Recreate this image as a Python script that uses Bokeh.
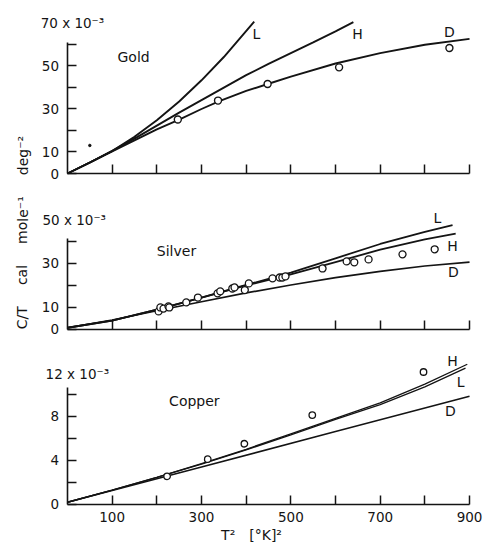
from bokeh.plotting import figure
from bokeh.layouts import column, row
from bokeh.models import Range1d, FixedTicker, Label
from bokeh.embed import file_html
from bokeh.resources import INLINE

# ---------------- data ----------------
x_ticks = [100, 200, 300, 400, 500, 600, 700, 800, 900]
x_tick_text = ["100", "", "300", "", "500", "", "700", "", "900"]
x_title = "T\u00b2\u2003[\u00b0K]\u00b2"

gold_y_ticks = [0, 10, 20, 30, 40, 50, 60]
gold_y_text = ["0", "10", "", "30", "", "50", ""]
silver_y_ticks = [0, 10, 20, 30, 40]
silver_y_text = ["0", "10", "", "30", ""]
copper_y_ticks = [0, 2, 4, 6, 8, 10]
copper_y_text = ["0", "", "4", "", "8", ""]

gold_L_x = [0, 50, 100, 150, 200, 250, 300, 350, 418]
gold_L_y = [0, 5.0, 10.4, 17.0, 24.7, 33.4, 43.2, 54.0, 70.4]
gold_H_x = [0, 50, 100, 150, 200, 250, 300, 350, 400, 450, 500, 550, 600, 640]
gold_H_y = [0, 5.1, 10.5, 16.2, 22.2, 28.2, 34.0, 39.8, 45.6, 50.8, 55.8, 60.8, 65.9, 70.2]
gold_D_x = [0, 100, 200, 250, 300, 340, 400, 450, 500, 600, 700, 800, 900]
gold_D_y = [0, 10.3, 20.5, 25.0, 29.9, 33.6, 38.3, 41.6, 44.9, 51.0, 55.8, 59.7, 62.4]
gold_obs_x = [247, 337, 448, 608, 855]
gold_obs_y = [25.0, 33.8, 41.5, 49.2, 58.2]
gold_speck_x = [50]
gold_speck_y = [13.0]

silver_L_x = [0, 100, 200, 300, 400, 500, 600, 700, 800, 862]
silver_L_y = [0.8, 4.0, 9.0, 14.5, 20.2, 25.8, 32.3, 38.8, 44.3, 47.4]
silver_H_x = [0, 100, 200, 300, 400, 500, 600, 700, 800, 869]
silver_H_y = [0.8, 4.0, 9.0, 14.5, 20.0, 25.0, 30.6, 36.2, 40.9, 43.5]
silver_D_x = [0, 100, 200, 300, 400, 500, 600, 700, 800, 900]
silver_D_y = [0.8, 4.3, 8.5, 12.6, 16.6, 20.2, 23.5, 26.4, 28.8, 30.6]
silver_obs_x = [204, 208, 215, 226, 228, 266, 292, 336, 342, 369, 374, 397, 406,
                459, 475, 481, 488, 571, 625, 642, 674, 750, 822]
silver_obs_y = [8.2, 10.0, 9.5, 10.5, 10.0, 12.3, 14.5, 16.4, 17.3, 18.6, 19.1, 17.9, 20.9,
                23.2, 23.6, 23.6, 24.1, 27.7, 30.9, 30.5, 31.8, 34.1, 36.4]

copper_H_x = [0, 100, 200, 300, 400, 500, 600, 700, 800, 895]
copper_H_y = [0.2, 1.3, 2.45, 3.7, 5.0, 6.4, 7.8, 9.2, 10.9, 12.7]
copper_L_x = [0, 100, 200, 300, 400, 500, 600, 700, 800, 891]
copper_L_y = [0.2, 1.3, 2.45, 3.65, 4.95, 6.3, 7.7, 9.05, 10.65, 12.35]
copper_D_x = [0, 300, 600, 900]
copper_D_y = [0.2, 3.4, 6.6, 9.8]
copper_obs_x = [223, 314, 396, 548, 797]
copper_obs_y = [2.55, 4.1, 5.5, 8.1, 12.0]

# ---------------- style ----------------
FONT = "DejaVu Sans"
INK = "#141414"
X_MIN = -64.9      # frame reaches left of the y axis so side texts stay inside it
X_MAX = 938.0      # and right of x = 900 so the last tick label fits


def txt(p, x, y, s, size="14px", align="center"):
    p.add_layout(Label(x=x, y=y, text=s, text_font=FONT, text_font_size=size,
                       text_color=INK, text_align=align, text_baseline="middle"))


def make_panel(height, ymin, ymax, yticks, ytext, ybound):
    p = figure(width=448, height=height, x_range=Range1d(X_MIN, X_MAX),
               y_range=Range1d(ymin, ymax),
               output_backend="svg", toolbar_location=None,
               min_border_left=0, min_border_right=0,
               min_border_top=0, min_border_bottom=0)
    p.xgrid.visible = False
    p.ygrid.visible = False
    p.outline_line_color = None
    p.background_fill_color = "white"
    p.border_fill_color = "white"

    for ax, ticks, bnd in ((p.xaxis[0], x_ticks, (0, 900)), (p.yaxis[0], yticks, ybound)):
        ax.fixed_location = 0
        ax.ticker = FixedTicker(ticks=ticks)
        ax.bounds = bnd
        ax.major_label_overrides = {t: "" for t in ticks}
        ax.major_label_text_font_size = "0px"
        ax.major_label_standoff = 0
        ax.axis_line_color = INK
        ax.axis_line_width = 1.6
        ax.major_tick_line_color = INK
        ax.major_tick_line_width = 1.5
        ax.major_tick_in = 9
        ax.major_tick_out = 0
        ax.minor_tick_in = 0
        ax.minor_tick_out = 0
    # y tick labels, right-aligned just left of the axis
    for t, s in zip(yticks, ytext):
        if s:
            txt(p, -19, t, s, "13.5px", "right")
    return p


# ---- Gold ----
g = make_panel(190, -7.88, 80.2, gold_y_ticks, gold_y_text, (0, 60.7))
g.line(gold_L_x, gold_L_y, line_color=INK, line_width=1.9)
g.line(gold_H_x, gold_H_y, line_color=INK, line_width=1.9)
g.line(gold_D_x, gold_D_y, line_color=INK, line_width=1.9)
g.scatter(gold_obs_x, gold_obs_y, marker="circle", size=7, fill_color="white",
          line_color=INK, line_width=1.4)
g.scatter(gold_speck_x, gold_speck_y, marker="circle", size=2.5, fill_color=INK,
          line_color=INK)
txt(g, -60, 70, "70 x 10\u207b\u00b3", "13.5px", "left")
txt(g, 148, 54.2, "Gold")
txt(g, 423, 64.9, "L")
txt(g, 649, 64.9, "H")
txt(g, 855, 65.8, "D")

# ---- Silver ----
s = make_panel(155, -7.26, 63.07, silver_y_ticks, silver_y_text, (0, 41.3))
s.line(silver_L_x, silver_L_y, line_color=INK, line_width=1.8)
s.line(silver_H_x, silver_H_y, line_color=INK, line_width=1.8)
s.line(silver_D_x, silver_D_y, line_color=INK, line_width=1.7)
s.scatter(silver_obs_x, silver_obs_y, marker="circle", size=7, fill_color="white",
          line_color=INK, line_width=1.3)
txt(s, -56, 49.5, "50 x 10\u207b\u00b3", "13.5px", "left")
txt(s, 244, 35.8, "Silver")
txt(s, 828, 50.8, "L")
txt(s, 862, 38.1, "H")
txt(s, 864, 26.0, "D")

# ---- Copper ----
c = make_panel(203, -3.99, 14.40, copper_y_ticks, copper_y_text, (0, 10.6))
c.line(copper_H_x, copper_H_y, line_color=INK, line_width=1.3)
c.line(copper_L_x, copper_L_y, line_color=INK, line_width=1.3)
c.line(copper_D_x, copper_D_y, line_color=INK, line_width=1.6)
c.scatter(copper_obs_x, copper_obs_y, marker="circle", size=6.5, fill_color="white",
          line_color=INK, line_width=1.3)
txt(c, -49, 11.8, "12 x 10\u207b\u00b3", "13.5px", "left")
txt(c, 284, 9.4, "Copper")
txt(c, 862, 13.0, "H")
txt(c, 880, 11.05, "L")
txt(c, 857, 8.5, "D")
# x tick labels and x title under the copper axis
for t, lbl in zip(x_ticks, x_tick_text):
    if lbl:
        txt(c, t, -1.15, lbl, "13.5px")
txt(c, 412, -2.8, x_title, "14px")

# ---- shared y-axis title ----
lab = figure(width=38, height=548, x_range=Range1d(0, 38), y_range=Range1d(0, 548),
             output_backend="svg", toolbar_location=None, min_border=0,
             x_axis_type=None, y_axis_type=None)
lab.xgrid.visible = False
lab.ygrid.visible = False
lab.outline_line_color = None
lab.add_layout(Label(x=22, y=316, angle=1.5707963,
                     text="C/T\u2003\u2002cal\u2003\u2002mole\u207b\u00b9\u2003\u2002deg\u207b\u00b2",
                     text_font=FONT, text_font_size="14px", text_color=INK,
                     text_align="center", text_baseline="middle"))

layout = row(lab, column(g, s, c))
open("out.html", "w").write(file_html(layout, INLINE))
